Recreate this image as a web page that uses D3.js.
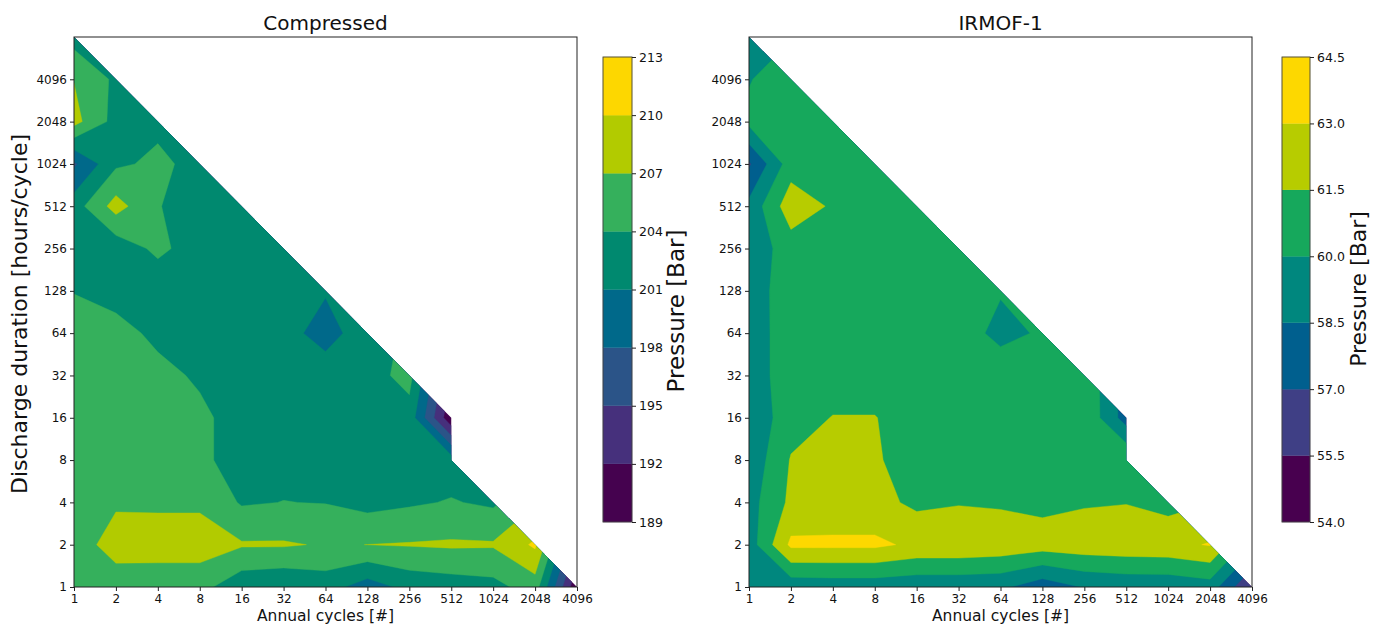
<!DOCTYPE html>
<html>
<head>
<meta charset="utf-8">
<script src="https://cdn.jsdelivr.net/npm/d3@7"></script>
<style>
  body { margin: 0; background: #fff; }
  svg { display: block; }
  text { font-family: "DejaVu Sans", sans-serif; fill: #111; }
</style>
</head>
<body>
<svg id="fig" width="1373" height="625"></svg>
<script>
// Grid of operating points: annual cycles (columns) x discharge duration in hours (rows)
const cycles = [1, 2, 4, 8, 16, 32, 64, 128, 256, 512, 1024, 2048, 4096];
const durations = [1, 2, 4, 8, 16, 32, 64, 128, 256, 512, 1024, 2048, 4096, 8192];
const axisTicks = [1, 2, 4, 8, 16, 32, 64, 128, 256, 512, 1024, 2048, 4096];

// Contour levels and band colours
const compressedLevels = [189, 192, 195, 198, 201, 204, 207, 210, 213];
const irmofLevels = [54.0, 55.5, 57.0, 58.5, 60.0, 61.5, 63.0, 64.5];
const compressedColors = ["#45024f", "#46307c", "#2b5488", "#00698a", "#00896f", "#35b05c", "#b2cb00", "#fdd700"];
const irmofColors = ["#48004f", "#3f3f85", "#005f8e", "#00877e", "#16a85c", "#b7cc00", "#fdd800"];

// Optimal storage pressure [bar]; one row per duration (1 h first), one column per cycle count.
// null = combination not evaluated.
const compressedPressure = [
  [205.5, 205.9, 205.0, 205.0, 201.9, 201.3, 202.3, 199.5, 201.9, 202.5, 203.0, 205.5, 189.5],
  [206.0, 207.85, 208.5, 208.5, 207.3, 207.3, 206.75, 207.02, 207.2, 207.4, 207.3, 210.5, null],
  [205.8, 206.75, 206.5, 206.5, 203.7, 204.05, 203.9, 203.0, 203.6, 204.2, 203.5, null, null],
  [205.8, 205.8, 205.6, 205.0, 202.0, 203.0, 203.0, 203.0, 202.6, 202.5, null, null, null],
  [205.6, 205.5, 205.2, 204.6, 202.8, 203.0, 202.8, 202.8, 202.8, 189.6, null, null, null],
  [205.5, 205.3, 204.8, 203.6, 203.0, 202.8, 202.3, 202.8, 205.0, null, null, null, null],
  [205.2, 205.0, 203.35, 203.0, 203.0, 201.9, 200.0, 202.4, null, null, null, null, null],
  [203.9, 202.9, 201.8, 202.5, 202.8, 202.6, 201.2, null, null, null, null, null, null],
  [203.0, 202.1, 204.7, 202.5, 202.8, 202.8, null, null, null, null, null, null, null],
  [202.6, 208.2, 204.1, 203.0, 203.0, null, null, null, null, null, null, null, null],
  [197.5, 203.5, 204.6, 203.1, null, null, null, null, null, null, null, null, null],
  [208.0, 202.9, 203.35, null, null, null, null, null, null, null, null, null, null],
  [206.9, 203.4, null, null, null, null, null, null, null, null, null, null, null],
  [202.8, null, null, null, null, null, null, null, null, null, null, null, null]
];

const irmofPressure = [
  [59.0, 59.0, 59.1, 59.1, 58.9, 58.9, 58.8, 57.6, 58.6, 58.9, 58.9, 59.3, 55.35],
  [59.2, 63.3, 63.3, 63.3, 62.7, 62.7, 62.5, 62.2, 62.4, 62.5, 62.6, 63.1, null],
  [59.4, 61.82, 62.0, 62.0, 61.17, 61.4, 61.3, 61.1, 61.35, 61.45, 60.96, null, null],
  [58.93, 61.6, 62.0, 61.8, 60.3, 60.9, 61.0, 61.0, 61.0, 61.47, null, null, null],
  [58.8, 60.9, 61.55, 61.55, 60.8, 60.9, 60.9, 61.0, 61.3, 57.8, null, null, null],
  [59.2, 60.8, 60.8, 60.8, 60.9, 61.0, 61.06, 61.0, 61.25, null, null, null, null],
  [59.2, 60.8, 61.0, 61.0, 61.0, 60.85, 59.5, 60.21, null, null, null, null, null],
  [59.23, 60.8, 61.0, 61.0, 61.0, 61.0, 60.13, null, null, null, null, null, null],
  [59.0, 60.76, 61.0, 61.0, 61.0, 61.0, null, null, null, null, null, null, null],
  [58.9, 62.4, 61.3, 61.0, 61.0, null, null, null, null, null, null, null, null],
  [56.8, 60.8, 61.0, 61.0, null, null, null, null, null, null, null, null, null],
  [60.4, 61.0, 61.0, null, null, null, null, null, null, null, null, null, null],
  [59.9, 61.0, null, null, null, null, null, null, null, null, null, null, null],
  [58.8, null, null, null, null, null, null, null, null, null, null, null, null]
];

const svg = d3.select("#fig");

// Continue the plane of each cut-corner quad into its missing corner so the
// marching-squares result inside the valid triangle is exact; other missing
// points are clipped away, so they just copy a neighbour.
function extendGrid(rows) {
  const ny = rows.length, nx = rows[0].length;
  const ok = (i, j) => j >= 0 && i >= 0 && rows[j][i] != null;
  const out = rows.map(r => r.slice());
  for (let j = 1; j < ny; j++) {
    for (let i = 1; i < nx; i++) {
      if (!ok(i, j) && ok(i - 1, j) && ok(i, j - 1) && ok(i - 1, j - 1)) {
        out[j][i] = rows[j][i - 1] + rows[j - 1][i] - rows[j - 1][i - 1];
      }
    }
  }
  for (let j = 0; j < ny; j++) {
    for (let i = 0; i < nx; i++) {
      if (out[j][i] == null) out[j][i] = out[j][i - 1];
    }
  }
  return out;
}

// Outline of the evaluated region in grid-index space (corner-cut quads).
function domainOutline(rows) {
  const nx = rows[0].length;
  const top = d3.range(nx).map(i => d3.max(rows, (r, j) => (r[i] != null ? j : -1)));
  const pts = [[0, 0], [nx - 1, 0]];
  for (let i = nx - 1; i >= 0; i--) {
    if (i < nx - 1) pts.push([i, Math.min(top[i], top[i + 1] + 1)]);
    pts.push([i, top[i]]);
  }
  return pts;
}

function drawPanel(cfg) {
  const nx = cycles.length, ny = durations.length;
  const x = d3.scaleLog().base(2)
    .domain([cycles[0], cycles[nx - 1]])
    .range([cfg.left, cfg.right]);
  const y = d3.scaleLog().base(2)
    .domain([durations[0], durations[ny - 1]])
    .range([cfg.bottom, cfg.top]);
  // grid index -> log2 of the grid value
  const ix = d3.scaleLinear().domain([0, nx - 1]).range([Math.log2(cycles[0]), Math.log2(cycles[nx - 1])]);
  const iy = d3.scaleLinear().domain([0, ny - 1]).range([Math.log2(durations[0]), Math.log2(durations[ny - 1])]);
  const idxToPx = (a, b) => [x(2 ** ix(a)), y(2 ** iy(b))];

  const g = svg.append("g");
  const clipId = "clip-" + cfg.id;
  const outline = domainOutline(cfg.grid).map(p => idxToPx(p[0], p[1]));
  g.append("clipPath").attr("id", clipId)
    .append("path").attr("d", d3.line()(outline) + "Z");

  const full = extendGrid(cfg.grid);
  const values = [];
  for (let j = 0; j < ny; j++) for (let i = 0; i < nx; i++) values.push(full[j][i]);

  const bands = d3.contours().size([nx, ny]).thresholds(cfg.levels.slice(0, -1))(values);
  // d3.contours places value k at coordinate k + 0.5
  const proj = d3.geoTransform({
    point(cx, cy) {
      const p = idxToPx(cx - 0.5, cy - 0.5);
      this.stream.point(p[0], p[1]);
    }
  });
  const path = d3.geoPath(proj);
  const colorOf = d3.scaleThreshold().domain(cfg.levels.slice(1, -1)).range(cfg.colors);

  g.append("g").attr("clip-path", `url(#${clipId})`)
    .selectAll("path").data(bands).join("path")
    .attr("d", path)
    .attr("fill", d => colorOf(d.value))
    .attr("stroke", d => colorOf(d.value))
    .attr("stroke-width", 0.4);

  // axes
  const fmt = d3.format("d");
  const xAxis = g.append("g").attr("transform", `translate(0,${cfg.bottom})`)
    .call(d3.axisBottom(x).tickValues(axisTicks).tickFormat(fmt).tickSize(4).tickPadding(3));
  const yAxis = g.append("g").attr("transform", `translate(${cfg.left},0)`)
    .call(d3.axisLeft(y).tickValues(axisTicks).tickFormat(fmt).tickSize(4).tickPadding(3));
  [xAxis, yAxis].forEach(a => {
    a.select(".domain").remove();
    a.selectAll("line").attr("stroke", "#222");
    a.selectAll("text").style("font-size", "12px").style("font-family", "DejaVu Sans, sans-serif").attr("fill", "#111");
  });

  g.append("rect")
    .attr("x", cfg.left).attr("y", cfg.top)
    .attr("width", cfg.right - cfg.left).attr("height", cfg.bottom - cfg.top)
    .attr("fill", "none").attr("stroke", "#222").attr("stroke-width", 1);

  g.append("text")
    .attr("x", (cfg.left + cfg.right) / 2).attr("y", 30)
    .attr("text-anchor", "middle").style("font-size", "20px")
    .text(cfg.title);

  g.append("text")
    .attr("x", (cfg.left + cfg.right) / 2).attr("y", 620.5)
    .attr("text-anchor", "middle").style("font-size", "15.5px")
    .text("Annual cycles [#]");

  if (cfg.yLabel) {
    g.append("text")
      .attr("transform", `translate(27,${(cfg.top + cfg.bottom) / 2 + 2}) rotate(-90)`)
      .attr("text-anchor", "middle").style("font-size", "22px")
      .text(cfg.yLabel);
  }

  // colour bar
  const cb = cfg.cbar;
  const cy = d3.scaleLinear()
    .domain([cfg.levels[0], cfg.levels[cfg.levels.length - 1]])
    .range([cb.bottom, cb.top]);
  const bandData = d3.pairs(cfg.levels);
  g.append("g").selectAll("rect").data(bandData).join("rect")
    .attr("x", cb.x).attr("width", cb.w)
    .attr("y", d => cy(d[1])).attr("height", d => cy(d[0]) - cy(d[1]))
    .attr("fill", (d, k) => cfg.colors[k])
    .attr("stroke", (d, k) => cfg.colors[k]).attr("stroke-width", 0.3);
  g.append("rect")
    .attr("x", cb.x).attr("y", cb.top).attr("width", cb.w).attr("height", cb.bottom - cb.top)
    .attr("fill", "none").attr("stroke", "#444").attr("stroke-width", 0.9);
  const cAxis = g.append("g").attr("transform", `translate(${cb.x + cb.w},0)`)
    .call(d3.axisRight(cy).tickValues(cfg.levels).tickFormat(d3.format(cb.fmt)).tickSize(4).tickPadding(3));
  cAxis.select(".domain").remove();
  cAxis.selectAll("line").attr("stroke", "#222");
  cAxis.selectAll("text").style("font-size", "12.5px").style("font-family", "DejaVu Sans, sans-serif").attr("fill", "#111");

  g.append("text")
    .attr("transform", `translate(${cb.labelX},${cb.labelY}) rotate(-90)`)
    .attr("text-anchor", "middle").style("font-size", cb.labelSize + "px")
    .text("Pressure [Bar]");
}

drawPanel({
  id: "compressed", title: "Compressed",
  left: 74, right: 577, top: 37, bottom: 587,
  grid: compressedPressure, levels: compressedLevels, colors: compressedColors,
  yLabel: "Discharge duration [hours/cycle]",
  cbar: { x: 603, w: 29, top: 57, bottom: 522, fmt: "d", labelX: 684, labelY: 311, labelSize: 23 }
});

drawPanel({
  id: "irmof", title: "IRMOF-1",
  left: 749, right: 1252, top: 37, bottom: 587,
  grid: irmofPressure, levels: irmofLevels, colors: irmofColors,
  yLabel: null,
  cbar: { x: 1282, w: 28, top: 57, bottom: 522, fmt: ".1f", labelX: 1366, labelY: 289, labelSize: 22 }
});
</script>
</body>
</html>
